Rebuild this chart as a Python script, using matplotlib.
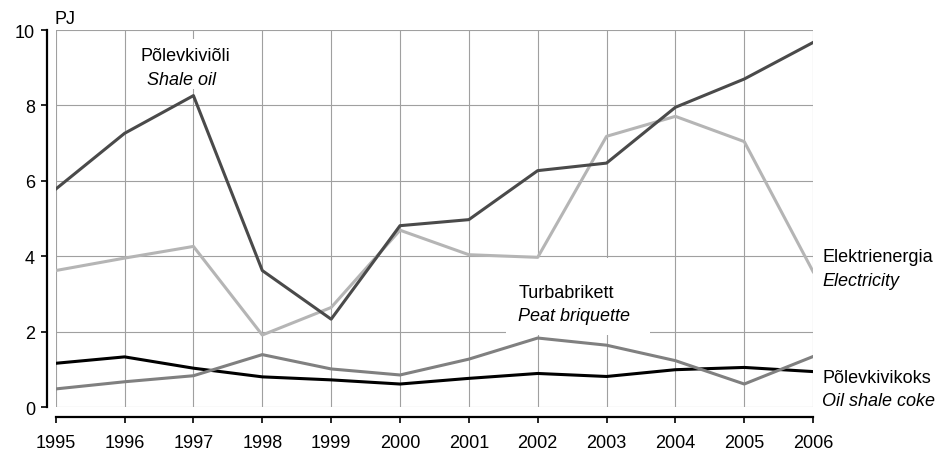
import matplotlib.pyplot as plt
from matplotlib.patches import Rectangle

plt.rcParams['font.family'] = ['Liberation Sans', 'DejaVu Sans']

years = [1995, 1996, 1997, 1998, 1999, 2000, 2001, 2002, 2003, 2004, 2005, 2006]

shale_oil = [5.78, 7.26, 8.26, 3.62, 2.33, 4.81, 4.97, 6.27, 6.47, 7.95, 8.70, 9.67]
electricity = [3.62, 3.95, 4.26, 1.91, 2.64, 4.69, 4.04, 3.97, 7.18, 7.71, 7.04, 3.59]
peat_briquette = [0.48, 0.67, 0.83, 1.39, 1.01, 0.85, 1.27, 1.83, 1.64, 1.23, 0.61, 1.34]
oil_shale_coke = [1.16, 1.33, 1.03, 0.80, 0.72, 0.61, 0.76, 0.89, 0.81, 0.99, 1.05, 0.94]

fs = 13

fig = plt.figure(figsize=(9.4, 4.52), dpi=100)
ax = fig.add_axes([0.0593, 0.0973, 0.8057, 0.8341])

lw = 2.2
ax.plot(years, oil_shale_coke, color='black', lw=lw, zorder=3)
ax.plot(years, peat_briquette, color='#808080', lw=lw, zorder=3)
ax.plot(years, electricity, color='#b5b5b5', lw=lw, zorder=3)
ax.plot(years, shale_oil, color='#4a4a4a', lw=lw, zorder=3)

ax.set_xlim(1995, 2006)
ax.set_ylim(0, 10)
ax.set_xticks(years)
ax.set_yticks([0, 2, 4, 6, 8, 10])

ax.set_axisbelow(True)
ax.grid(True, color='#a0a0a0', lw=0.8)

for s in ['top', 'right']:
    ax.spines[s].set_visible(False)
ax.spines['left'].set_position(('outward', 6.5))
ax.spines['bottom'].set_position(('outward', 7.2))
ax.spines['left'].set_linewidth(1.6)
ax.spines['bottom'].set_linewidth(1.6)
ax.tick_params(axis='y', length=4.5, width=1.2, pad=4, labelsize=fs)
ax.tick_params(axis='x', length=4.5, width=1.2, pad=8, labelsize=fs)

# white boxes behind the labels
ax.add_patch(Rectangle((1996.15, 8.43), 1.5, 1.33, facecolor='white', edgecolor='none', zorder=1))
ax.add_patch(Rectangle((2001.54, 1.90), 2.09, 2.05, facecolor='white', edgecolor='none', zorder=1))

ax.text(1996.885, 9.32, 'Põlevkiviõli', ha='center', va='center', fontsize=fs, zorder=4)
ax.text(1996.83, 8.70, 'Shale oil', ha='center', va='center', fontsize=fs, style='italic', zorder=4)
ax.text(2001.72, 3.04, 'Turbabrikett', ha='left', va='center', fontsize=fs, zorder=4)
ax.text(2001.72, 2.42, 'Peat briquette', ha='left', va='center', fontsize=fs, style='italic', zorder=4)
ax.text(2006.13, 4.0, 'Elektrienergia', ha='left', va='center', fontsize=fs, clip_on=False)
ax.text(2006.13, 3.35, 'Electricity', ha='left', va='center', fontsize=fs, style='italic', clip_on=False)
ax.text(2006.13, 0.79, 'Põlevkivikoks', ha='left', va='center', fontsize=fs, clip_on=False)
ax.text(2006.13, 0.17, 'Oil shale coke', ha='left', va='center', fontsize=fs, style='italic', clip_on=False)

fig.text(55 / 940, 1 - 20 / 452, 'PJ', ha='left', va='center', fontsize=fs)

plt.savefig('out.png', dpi=100)
